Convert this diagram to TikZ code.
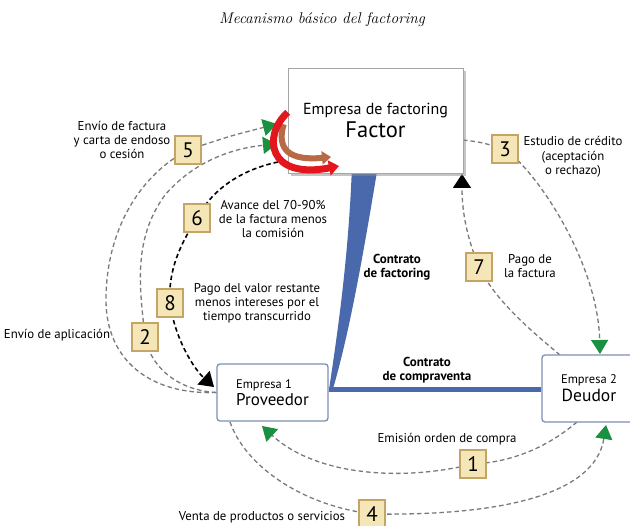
\documentclass[tikz,border=0pt]{standalone}
\usepackage{fontspec}
\setsansfont{PT Sans}
\usetikzlibrary{arrows.meta,shadows,backgrounds,calc}
\definecolor{bandblue}{HTML}{4A69AD}
\definecolor{boxborder}{HTML}{7B8FB0}
\definecolor{numfill}{HTML}{F5E6B8}
\definecolor{numborder}{HTML}{C4A566}
\definecolor{arrgreen}{HTML}{1B9040}
\definecolor{dashgray}{HTML}{7A7A7A}
\definecolor{redarr}{HTML}{E3161D}
\definecolor{brownarr}{HTML}{B86A45}
\begin{document}
\begin{tikzpicture}[x=1pt,y=-1pt,
  lbl/.style={font=\sffamily\fontsize{12.8}{14.2}\selectfont, align=center, inner sep=1pt},
  blbl/.style={font=\sffamily\bfseries\fontsize{13}{14.5}\selectfont, align=center, inner sep=1pt},
  numbox/.style={draw=numborder, fill=numfill, line width=1.2pt, minimum width=26pt, minimum height=28pt, inner sep=0pt, font=\sffamily\fontsize{21}{21}\selectfont},
  compbox/.style={draw=boxborder, fill=white, line width=1.3pt, rounded corners=3pt, inner sep=0pt, font=\sffamily},
  factorbox/.style={draw=black!35, fill=white, line width=0.6pt, minimum width=175pt, minimum height=105pt, inner sep=0pt, align=center, font=\sffamily, drop shadow={shadow xshift=3pt, shadow yshift=-3pt, fill=black!45, opacity=0.5}},
  gdash/.style={draw=dashgray, line width=1.3pt, dash pattern=on 4.5pt off 3pt},
  bdash/.style={draw=black, line width=1.6pt, dash pattern=on 4.5pt off 3pt},
  gtip/.style={-{Triangle[length=14pt,width=17pt,color=arrgreen,fill=arrgreen]}},
  btip/.style={-{Triangle[length=14pt,width=18pt,color=black,fill=black]}},
]
\useasboundingbox (0,0) rectangle (630,526);

% title
\node[font=\rmfamily\itshape\fontsize{15.5}{18}\selectfont] (title) at (322,20) {Mecanismo básico del factoring};

% main boxes
\node[factorbox] (F) at (375.5,120.5) {\fontsize{16}{18}\selectfont Empresa de factoring\\[2pt]\fontsize{22.5}{24}\selectfont Factor};
\node[compbox, minimum width=111pt, minimum height=57pt, align=left] (P) at (272.5,392.5) {\fontsize{12.5}{14}\selectfont Empresa 1\\[2pt]\fontsize{17}{19}\selectfont Proveedor};
\node[compbox, minimum width=112pt, minimum height=67pt] (D) at (598,388.5) {};
\node[font=\sffamily, align=center] (Dt) at (589,388.5) {\fontsize{12.5}{14}\selectfont Empresa 2\\[2pt]\fontsize{17.5}{19}\selectfont Deudor};

% number boxes
\node[numbox] (n1) at (473,464) {1};
\node[numbox] (n2) at (145,337) {2};
\node[numbox] (n3) at (505,149) {3};
\node[numbox] (n4) at (372,514) {4};
\node[numbox] (n5) at (188,150) {5};
\node[numbox] (n6) at (197,218) {6};
\node[numbox] (n7) at (479,267) {7};
\node[numbox] (n8) at (170,303) {8};

% labels
\node[lbl] (l5) at (122,140) {Envío de factura\\y carta de endoso\\o cesión};
\node[lbl] (l6) at (273,219) {Avance del 70-90\%\\de la factura menos\\la comisión};
\node[lbl] (l8) at (257,303) {Pago del valor restante\\menos intereses por el\\tiempo transcurrido};
\node[lbl] (l2) at (57,335) {Envío de aplicación};
\node[lbl] (l3) at (573,157) {Estudio de crédito\\(aceptación\\o rechazo)};
\node[lbl] (l7) at (530,266) {Pago de\\la factura};
\node[lbl] (l1) at (447,439) {Emisión orden de compra};
\node[lbl] (l4) at (262,517) {Venta de productos o servicios};
\node[blbl] (lf) at (397,267) {Contrato\\de factoring};
\node[blbl] (lc) at (427,370) {Contrato\\de compraventa};

% connector end points
\coordinate (a5) at (277,124);
\coordinate (a2) at (277,144);
\coordinate (b6) at (278,162);
\coordinate (a8) at (214,387);
\coordinate (s3) at (463,140);
\coordinate (a3) at (600,354);
\coordinate (s7) at (560,355);
\coordinate (a7) at (462,174);
\coordinate (s1) at (577,422);
\coordinate (a1) at (262,426);
\coordinate (s4) at (230,422);
\coordinate (a4) at (606,425);
\coordinate (h) at (0,390);

\begin{scope}[on background layer]
  \fill[white] (0,0) rectangle (630,526);
  % 5
  \draw[gdash] (P.west) .. controls (150,395) and (106,360) .. (106,300) .. controls (106,230) and (140,175) .. (n5.center);
  \draw[gdash,gtip] (n5.center) .. controls (230,136) .. (a5);
  % 2
  \draw[gdash,gtip] (P.west) .. controls (175,390) and (150,365) .. (n2.center) .. controls (140,290) and (132,240) .. (165,195) .. controls (195,160) and (235,148) .. (a2);
  % 6 / 8
  \draw[bdash,btip] (b6) .. controls (240,170) and (212,190) .. (n6.center) .. controls (180,245) and (168,270) .. (n8.center) .. controls (175,340) and (195,370) .. (a8);
  % 3
  \draw[gdash,gtip] (s3) .. controls (480,142) .. (n3.center) .. controls (540,175) and (598,265) .. (a3);
  % 7
  \draw[gdash,btip] (s7) .. controls (530,330) and (495,300) .. (n7.center) .. controls (468,240) and (462,215) .. (a7);
  % 1
  \draw[gdash,gtip] (s1) .. controls (550,445) and (515,462) .. (n1.center) .. controls (400,482) and (315,475) .. (a1);
  % 4
  \draw[gdash] (s4) .. controls (245,465) and (300,505) .. (n4.center);
  \draw[gdash,gtip] (n4.center) .. controls (500,516) and (595,495) .. (a4);
  % contracts
  \fill[bandblue] ($(F.south west)+(64,0)$) .. controls (348,260) and (338,330) .. ($(P.east)+(0,-0.5)$) -- ($(P.east)+(5,-6)$) .. controls (350,330) and (364,250) .. ($(F.south west)+(89,0)$) -- cycle;
  \draw[bandblue, line width=5pt] (P.east |- h) -- (D.west |- h);
\end{scope}

% circular arrows on the factor box
\draw[brownarr, line width=6pt, -{Triangle[length=9pt,width=13pt]}] ($(F.south west)+(-4,-49)$) .. controls (276,150) and (290,161) .. (331,157);
\draw[redarr, line width=7pt, -{Triangle[length=10pt,width=15pt]}] ($(F.south west)+(0,-61)$) .. controls (262,136) and (268,180) .. (339,166);
\end{tikzpicture}
\end{document}
